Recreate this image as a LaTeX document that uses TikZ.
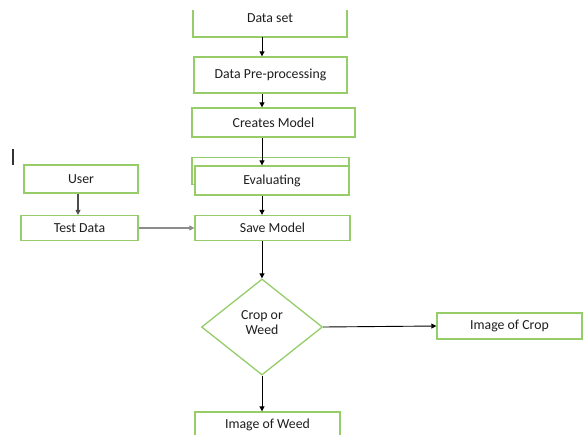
\documentclass[tikz,border=0pt]{standalone}
\usepackage{fontspec}
\setmainfont{Carlito}
\usetikzlibrary{shapes.geometric,arrows.meta}
\definecolor{boxgreen}{RGB}{150,205,105}
\definecolor{txt}{RGB}{30,30,30}
\tikzset{
  lbl/.style={text=txt, font=\fontsize{13.8}{15}\selectfont},
  box/.style={draw=boxgreen, line width=1.3pt, fill=white, inner sep=0pt, lbl},
  dia/.style={draw=boxgreen, line width=1.3pt, fill=white, diamond, inner sep=0pt, align=center, lbl},
  arr/.style={-{Triangle[length=5pt,width=5pt]}, line width=0.9pt, black},
  garr/.style={-{Triangle[length=5pt,width=5pt]}, line width=1.6pt, black!45},
}
\begin{document}
\begin{tikzpicture}[x=1pt,y=-1pt]
\useasboundingbox (0,0) rectangle (584,434);
\begin{scope}
\clip (0,0) rectangle (584,434);
% Data set (top open)
\coordinate (dsa) at (193,10);
\coordinate (dsb) at (193,37);
\coordinate (dsc) at (347,37);
\coordinate (dsd) at (347,10);
\draw[draw=boxgreen, line width=1.3pt] (dsa) -- (dsb) -- (dsc) -- (dsd);
\node[lbl] (ds) at (270,18) {Data set};
\node[box, minimum width=153pt, minimum height=36pt] (pre) at (270.5,75) {Data Pre-processing};
\node[box, minimum width=163pt, minimum height=29pt] (cm) at (273.5,122.5) {Creates Model};
% Evaluating with shadow box behind
\node[box, minimum width=157pt, minimum height=27pt] (evb) at (270.5,171) {};
\node[box, minimum width=154pt, minimum height=29pt] (ev) at (272,180.5) {Evaluating};
\node[box, minimum width=155pt, minimum height=25pt] (sm) at (272.5,228) {Save Model};
\node[box, minimum width=114pt, minimum height=28pt] (user) at (81,179) {User};
\node[box, minimum width=117pt, minimum height=25pt] (td) at (79.5,228) {Test Data};
\node[dia, minimum width=121pt, minimum height=96pt] (cw) at (262,327) {};
\node[lbl, align=center] (cwt) at (262,323) {Crop or\\Weed};
\node[box, minimum width=145pt, minimum height=26pt] (ic) at (509.5,326) {Image of Crop};
\node[box, minimum width=145pt, minimum height=40pt] (iw) at (267.5,432) {};
\node[lbl] (iwt) at (267.5,425) {Image of Weed};
\end{scope}
\coordinate (bar1) at (13,149);
\coordinate (bar2) at (13,165);
\draw[line width=1.8pt, black!80] (bar1) -- (bar2);
% connectors
\draw[arr] (262,37) -- (pre.north -| 262,0);
\draw[arr] (pre.south -| 262,0) -- (cm.north -| 262,0);
\draw[arr] (cm.south -| 262,0) -- (ev.north -| 262,0);
\draw[arr] (ev.south -| 262,0) -- (sm.north -| 262,0);
\draw[arr] (sm.south -| 262,0) -- (cw.north);
\draw[arr] (cw.east) -- (ic.west);
\draw[arr] (cw.south) -- (iw.north -| 262,0);
\draw[arr, black!70, line width=1.2pt] (user.south -| 78,0) -- (td.north -| 78,0);
\draw[garr] (td.east) -- (sm.west);
\end{tikzpicture}
\end{document}
